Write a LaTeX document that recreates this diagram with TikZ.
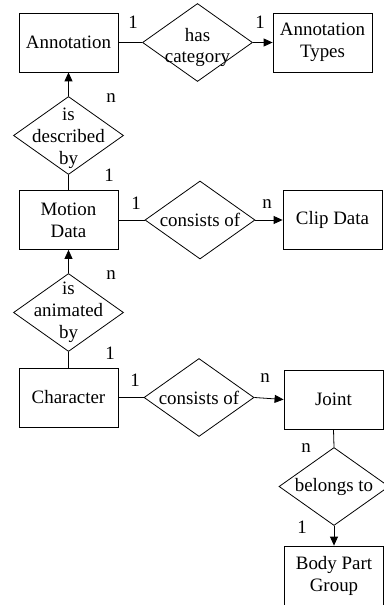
\documentclass[tikz,border=0pt]{standalone}
\usepackage{fontspec}
\setmainfont{Liberation Serif}
\newfontfamily\erserif{Liberation Serif}
\usetikzlibrary{arrows.meta,shapes.geometric}
\newcommand{\erfont}{\erserif\fontsize{19}{22}\selectfont}
\tikzset{
  ent/.style     ={rectangle, draw, line width=.8pt, minimum width=99bp,
                   minimum height=59bp, inner sep=0pt, align=center, font=\erfont},
  rel/.style     ={diamond, draw, line width=.8pt, minimum width=110bp,
                   minimum height=78bp, inner sep=0pt},
  reltext/.style ={align=center, inner sep=0pt, font=\erfont},
  card/.style    ={inner sep=0pt, font=\erfont},
  link/.style    ={line width=.8pt},
  arr/.style     ={-{Triangle[length=9bp,width=8bp]}, line width=.8pt},
}

\begin{document}
\begin{tikzpicture}[x=1bp,y=-1bp]
  \useasboundingbox (0,0) rectangle (383,605);

  % top row
  \node[ent] (ann) at (68.5,42.5) {Annotation};
  \node[rel] (hascat) at (197.5,42.5) {};
  \node[reltext] (hascat-t) at ([yshift=-5bp]hascat.center) {has\\category};
  \node[ent] (types) at (322.5,42.5) {Annotation\\Types};
  \draw[link] (ann.east) -- (hascat.west);
  \draw[arr] (hascat.east) -- (types.west);
  \node[card] (c1) at (133,22) {1};
  \node[card] (c2) at (260,22) {1};

  % annotation <- motion data
  \node[rel] (descby) at (68.5,135.5) {};
  \node[reltext] (descby-t) at ([yshift=-3bp]descby.center) {is\\described\\by};
  \draw[arr] (descby.north) -- (ann.south);
  \node[card] (c3) at (111,98) {n};
  \node[card] (c4) at (109,175) {1};

  % middle row
  \node[ent] (motion) at (68.5,220) {Motion\\Data};
  \node[rel] (cons1) at (200,220) {};
  \node[reltext] (cons1-t) at (cons1) {consists of};
  \node[ent] (clip) at (332.5,220) {Clip Data};
  \draw[link] (descby.south) -- (motion.north);
  \draw[link] (motion.east) -- (cons1.west);
  \draw[arr] (cons1.east) -- (clip.west);
  \node[card] (c5) at (136,203) {1};
  \node[card] (c6) at (267,204) {n};

  % motion data <- character
  \node[rel] (animby) at (68.5,312.5) {};
  \node[reltext] (animby-t) at (animby) {is\\animated\\by};
  \draw[arr] (animby.north) -- (motion.south);
  \node[card] (c7) at (111,275) {n};
  \node[card] (c8) at (110,353) {1};

  % bottom row
  \node[ent] (chara) at (68.5,397.5) {Character};
  \node[rel] (cons2) at (199,397.5) {};
  \node[reltext] (cons2-t) at (cons2) {consists of};
  \node[ent] (joint) at (333.5,399.5) {Joint};
  \draw[link] (animby.south) -- (chara.north);
  \draw[link] (chara.east) -- (cons2.west);
  \draw[arr] (cons2.east) -- (joint.west);
  \node[card] (c9) at (135,380) {1};
  \node[card] (c10) at (265,378) {n};

  % joint -> body part group
  \node[rel] (belongs) at (334,486.5) {};
  \node[reltext] (belongs-t) at (belongs) {belongs to};
  \node[ent] (body) at (334,575.5) {Body Part\\Group};
  \draw[link] (joint.south) -- (belongs.north);
  \draw[arr] (belongs.south) -- (body.north);
  \node[card] (c11) at (306,448) {n};
  \node[card] (c12) at (302,527) {1};
\end{tikzpicture}
\end{document}
